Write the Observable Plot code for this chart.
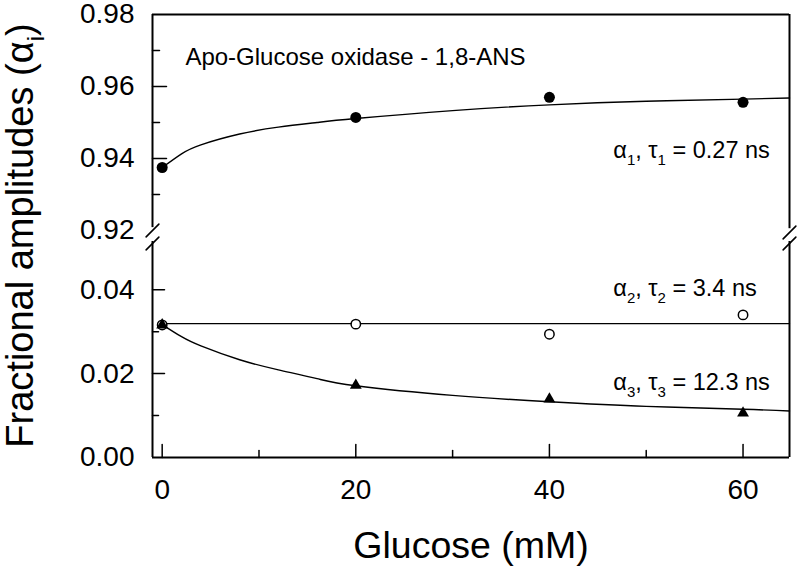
<!DOCTYPE html>
<html><head><meta charset="utf-8">
<script src="https://cdn.jsdelivr.net/npm/d3@7"></script>
<script src="https://cdn.jsdelivr.net/npm/@observablehq/plot@0.6"></script>
<style>
body{margin:0;background:#fff;}
#chart{width:800px;height:568px;position:relative;overflow:hidden;background:#fff;}
#chart svg{display:block;overflow:visible;}
</style></head><body><div id="chart"></div>
<script>
// ---- data ----
const glucose = [0, 20, 40, 60];
const alpha1 = [0.9375, 0.9514, 0.9570, 0.9556];
const alpha2 = [0.0316, 0.0318, 0.0294, 0.0340];
const alpha3 = [0.0316, 0.0172, 0.0139, 0.0106];
// fitted curves as drawn in the figure
const fitGlucose = [0, 2, 4, 8, 12, 16, 20, 30, 40, 50, 60, 64.8];
const fit1 = [0.9375, 0.9413, 0.9438, 0.9468, 0.9487, 0.9500, 0.9511, 0.9533, 0.9549, 0.9559, 0.9565, 0.9568];
const fit3 = [0.0317, 0.0288, 0.0266, 0.0233, 0.0209, 0.0188, 0.0171, 0.0148, 0.0133, 0.0122, 0.0115, 0.0111];
const fit2Glucose = [0, 64.8];
const fit2 = [0.0319, 0.0319];
// axes
const xDomain = [-1, 64.8];
const yTopDomain = [0.92, 0.98];
const yBotDomain = [0, 0.0515];
const xMajor = [0, 20, 40, 60];
const xMinor = [10, 30, 50];
const yTopLabels = [0.92, 0.94, 0.96, 0.98];
const yTopMajor = [0.94, 0.96];
const yTopMinor = [0.93, 0.95, 0.97];
const yBotLabels = [0.00, 0.02, 0.04];
const yBotMajor = [0.02, 0.04];
const yBotMinor = [0.01, 0.03];
// annotations
const title = "Apo-Glucose oxidase - 1,8-ANS";
const titleGlucose = 2.4, titleAlpha = 0.968;
const seriesLabels = ["α₁, τ₁ = 0.27 ns", "α₂, τ₂ = 3.4 ns", "α₃, τ₃ = 12.3 ns"];
const seriesLabelGlucose = [46.6, 46.6, 46.6];
const seriesLabelAlpha = [0.9422, 0.0402, 0.0179];
const xLabel = "Glucose (mM)";
const yLabel = "Fractional amplitudes (αᵢ)";

const FONT = "'Liberation Sans', Arial, Helvetica, sans-serif";
const lineShape = {draw(ctx, l) { ctx.moveTo(0, 0); ctx.lineTo(0, -l); }};

const pts1 = glucose.map((g, i) => ({g, a: alpha1[i]}));
const pts2 = glucose.map((g, i) => ({g, a: alpha2[i]}));
const pts3 = glucose.map((g, i) => ({g, a: alpha3[i]}));
const curve1 = fitGlucose.map((g, i) => ({g, a: fit1[i]}));
const curve3 = fitGlucose.map((g, i) => ({g, a: fit3[i]}));
const curve2 = fit2Glucose.map((g, i) => ({g, a: fit2[i]}));

function ticksY(vals, len, x0) {
  return Plot.vector(vals, {x: () => x0, y: d => d, rotate: 90, length: len, anchor: "start", shape: lineShape, stroke: "black", strokeWidth: 1.5});
}
function breakMark(xv, yv, dy) {
  return Plot.vector([{x: xv, y: yv}], {x: "x", y: "y", dy, rotate: 45, length: 18, anchor: "middle", shape: lineShape, stroke: "black", strokeWidth: 1.6});
}

const common = {
  width: 800, marginLeft: 152, marginRight: 11,
  x: {domain: xDomain, axis: null},
  style: {fontFamily: FONT, fontSize: "28px", color: "black", background: "transparent", overflow: "visible"}
};

const topPlot = Plot.plot({
  ...common,
  height: 232, marginTop: 14, marginBottom: 2,
  y: {domain: yTopDomain, axis: null},
  marks: [
    Plot.ruleY([{y: yTopDomain[1]}], {y: "y", stroke: "black", strokeWidth: 2}),
    Plot.ruleX([{x: xDomain[0], y1: 0.9208, y2: yTopDomain[1]}], {x: "x", y1: "y1", y2: "y2", stroke: "black", strokeWidth: 2}),
    Plot.ruleX([{x: xDomain[1], y1: 0.9205, y2: yTopDomain[1]}], {x: "x", y1: "y1", y2: "y2", stroke: "black", strokeWidth: 2}),
    ticksY(yTopMajor, 14, xDomain[0]),
    ticksY(yTopMinor, 7, xDomain[0]),
    breakMark(xDomain[0], yTopDomain[0], 0),
    breakMark(xDomain[1], yTopDomain[0], 2),
    Plot.axisY(yTopLabels, {anchor: "left", tickSize: 0, tickPadding: 18, tickFormat: d3.format(".2f"), label: null}),
    Plot.line(curve1, {x: "g", y: "a", curve: "natural", stroke: "black", strokeWidth: 1.4}),
    Plot.dot(pts1, {x: "g", y: "a", r: 5.5, fill: "black"}),
    Plot.text([title], {x: () => titleGlucose, y: () => titleAlpha, text: d => d, textAnchor: "start", lineAnchor: "middle", fontSize: 24, fill: "black"}),
    Plot.text([seriesLabels[0]], {x: () => seriesLabelGlucose[0], y: () => seriesLabelAlpha[0], text: d => d, textAnchor: "start", lineAnchor: "middle", fontSize: 23.5, fill: "black"}),
    Plot.text([yLabel], {frameAnchor: "left", text: d => d, rotate: -90, textAnchor: "middle", lineAnchor: "middle", fontSize: 38, dx: -132, dy: 113, fill: "black"})
  ]
});

const bottomPlot = Plot.plot({
  ...common,
  height: 336, marginTop: 9, marginBottom: 111,
  y: {domain: yBotDomain, axis: null},
  marks: [
    Plot.ruleY([{y: 0}], {y: "y", stroke: "black", strokeWidth: 2}),
    Plot.ruleX([{x: xDomain[0], y1: 0, y2: yBotDomain[1]}], {x: "x", y1: "y1", y2: "y2", stroke: "black", strokeWidth: 2}),
    Plot.ruleX([{x: xDomain[1], y1: 0, y2: yBotDomain[1]}], {x: "x", y1: "y1", y2: "y2", stroke: "black", strokeWidth: 2}),
    ticksY(yBotMajor, 12, xDomain[0]),
    ticksY(yBotMinor, 6, xDomain[0]),
    Plot.vector(xMajor, {x: d => d, y: () => 0, rotate: 0, length: 13, anchor: "start", shape: lineShape, stroke: "black", strokeWidth: 1.5}),
    Plot.vector(xMinor, {x: d => d, y: () => 0, rotate: 0, length: 7, anchor: "start", shape: lineShape, stroke: "black", strokeWidth: 1.5}),
    breakMark(xDomain[0], yBotDomain[1], 2),
    breakMark(xDomain[1], yBotDomain[1], 2),
    Plot.axisY(yBotLabels, {anchor: "left", tickSize: 0, tickPadding: 18, tickFormat: d3.format(".2f"), label: null}),
    Plot.axisX(xMajor, {anchor: "bottom", tickSize: 0, tickPadding: 22, tickFormat: d3.format("d"), label: null}),
    Plot.line(curve2, {x: "g", y: "a", stroke: "black", strokeWidth: 1.3}),
    Plot.line(curve3, {x: "g", y: "a", curve: "natural", stroke: "black", strokeWidth: 1.4}),
    Plot.dot(pts2, {x: "g", y: "a", r: 4.7, fill: "white", stroke: "black", strokeWidth: 1.5}),
    Plot.dot(pts3, {x: "g", y: "a", r: 4.4, symbol: "triangle", fill: "black"}),
    Plot.text(seriesLabels.slice(1), {x: (d, i) => seriesLabelGlucose[i + 1], y: (d, i) => seriesLabelAlpha[i + 1], text: d => d, textAnchor: "start", lineAnchor: "middle", fontSize: 23.5, fill: "black"}),
    Plot.text([xLabel], {frameAnchor: "bottom", text: d => d, textAnchor: "middle", lineAnchor: "middle", fontSize: 37.5, dy: 88, fill: "black"})
  ]
});

const el = document.getElementById("chart");
el.appendChild(topPlot);
el.appendChild(bottomPlot);

// render subscript characters as real subscripts
const subMap = {"₁": "1", "₂": "2", "₃": "3", "ᵢ": "i"};
el.querySelectorAll("text").forEach(t => {
  const s = t.textContent;
  if (!/[₁₂₃ᵢ]/.test(s) || t.querySelector("tspan")) return;
  const fs = parseFloat(getComputedStyle(t).fontSize) || 22;
  const shift = Math.round(fs * 0.28);
  t.textContent = "";
  let buf = "", lowered = false;
  const ns = "http://www.w3.org/2000/svg";
  const flush = () => {
    if (!buf) return;
    const sp = document.createElementNS(ns, "tspan");
    sp.textContent = buf;
    if (lowered) { sp.setAttribute("dy", -shift); lowered = false; }
    t.appendChild(sp); buf = "";
  };
  for (const ch of s) {
    if (subMap[ch]) {
      flush();
      const sp = document.createElementNS(ns, "tspan");
      sp.textContent = subMap[ch];
      sp.setAttribute("font-size", Math.round(fs * 0.62));
      if (!lowered) sp.setAttribute("dy", shift);
      lowered = true;
      t.appendChild(sp);
    } else buf += ch;
  }
  flush();
});
</script></body></html>
